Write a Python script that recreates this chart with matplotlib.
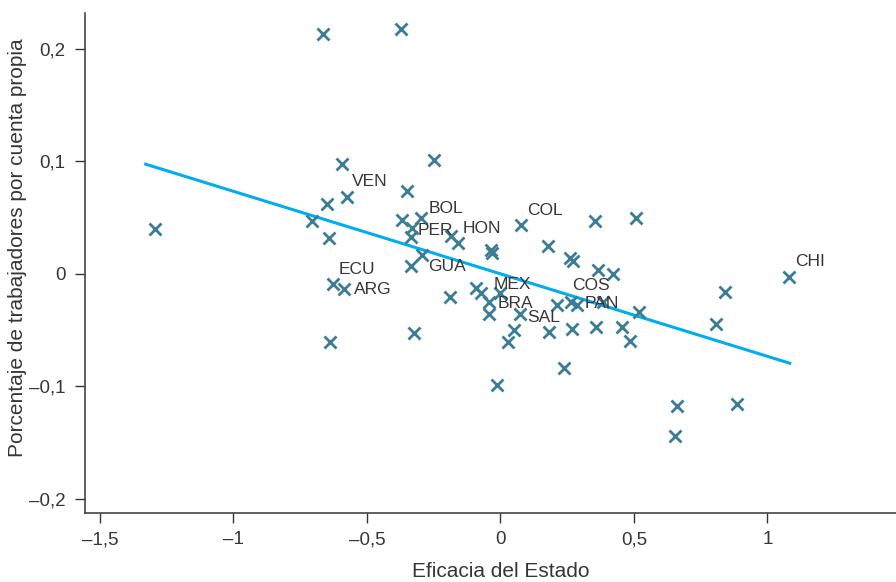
import matplotlib
matplotlib.use('Agg')
import matplotlib.pyplot as plt

# Scatter data
eficacia = [
    -0.665, -0.374, -1.293, -0.594, -0.250, -0.348, -0.576, -0.651, -0.705, -0.641,
    -0.369, -0.298, -0.333, -0.335, -0.186, -0.159, -0.295, -0.334, 0.078, 0.354,
    0.507, 0.178, -0.036, -0.030, 0.260, 0.273, 0.365, 0.423, -0.190, -0.092,
    -0.074, -0.044, -0.003, -0.043, 0.075, 0.211, 0.266, 0.288, 0.386, 0.521,
    -0.322, 0.050, 0.030, 0.181, 0.268, 0.359, 0.455, 0.485, 0.240, -0.013,
    -0.626, -0.585, -0.639, 1.082, 0.842, 0.806, 0.660, 0.888, 0.655,
]
cuenta_propia = [
    0.2125, 0.2175, 0.0396, 0.0975, 0.1008, 0.0733, 0.0685, 0.0620, 0.0470, 0.0319,
    0.0476, 0.0493, 0.0405, 0.0322, 0.0337, 0.0269, 0.0167, 0.0072, 0.0434, 0.0470,
    0.0499, 0.0242, 0.0210, 0.0180, 0.0139, 0.0115, 0.0037, -0.0004, -0.0207, -0.0127,
    -0.0171, -0.0250, -0.0168, -0.0362, -0.0362, -0.0276, -0.0250, -0.0275, -0.0250, -0.0343,
    -0.0527, -0.0500, -0.0608, -0.0514, -0.0493, -0.0470, -0.0475, -0.0594, -0.0836, -0.0984,
    -0.0089, -0.0136, -0.0609, -0.0027, -0.0162, -0.0449, -0.1176, -0.1161, -0.1445,
]

# Fitted line end points
fit_x = [-1.329, 1.084]
fit_y = [0.0973, -0.0795]

# Country labels and where their text sits (left edge, vertical centre)
paises = ["VEN", "BOL", "PER", "HON", "COL", "GUA", "ECU", "ARG",
          "MEX", "BRA", "SAL", "COS", "PAN", "CHI"]
pais_x = [-0.557, -0.270, -0.311, -0.141, 0.099, -0.270, -0.607, -0.548,
          -0.024, -0.011, 0.101, 0.268, 0.315, 1.105]
pais_y = [0.0819, 0.0577, 0.0382, 0.0399, 0.0562, 0.0065, 0.0042, -0.0142,
          -0.0098, -0.0260, -0.0393, -0.0106, -0.0260, 0.0109]

x_ticks = [-1.5, -1, -0.5, 0, 0.5, 1]
x_tick_labels = ["\u20131,5", "\u20131", "\u20130,5", "0", "0,5", "1"]
y_ticks = [0.2, 0.1, 0, -0.1, -0.2]
y_tick_labels = ["0,2", "0,1", "0", "\u20130,1", "\u20130,2"]

plt.rcParams['font.family'] = ['Liberation Sans', 'DejaVu Sans']
text_color = "#363636"

fig = plt.figure(figsize=(8.96, 5.82), dpi=100)
ax = fig.add_axes([0.0949, 0.1186, 0.9051, 0.8591])

ax.plot(fit_x, fit_y, color="#00aeef", linewidth=2.2, zorder=2)
ax.plot(eficacia, cuenta_propia, linestyle="none", marker="x", markersize=8,
        markeredgewidth=2.0, color="#3b7c96", zorder=3)

for nombre, tx, ty in zip(paises, pais_x, pais_y):
    ax.text(tx, ty, nombre, fontsize=12.5, color=text_color,
            ha="left", va="center", zorder=4)

ax.set_xlim(-1.556, 1.482)
ax.set_ylim(-0.2125, 0.2316)
ax.set_xticks(x_ticks)
ax.set_xticklabels(x_tick_labels)
ax.set_yticks(y_ticks)
ax.set_yticklabels(y_tick_labels)

for side in ["top", "right"]:
    ax.spines[side].set_visible(False)
for side in ["left", "bottom"]:
    ax.spines[side].set_color(text_color)
    ax.spines[side].set_linewidth(1.1)

ax.tick_params(axis="both", direction="out", length=7, width=1,
               color=text_color, labelcolor=text_color, labelsize=13.5)
ax.tick_params(axis="x", pad=6)
ax.tick_params(axis="y", pad=7)

ax.set_xlabel("Eficacia del Estado", fontsize=15, color=text_color, va="center")
ax.set_ylabel("Porcentaje de trabajadores por cuenta propia", fontsize=15,
              color=text_color, va="center")
ax.xaxis.set_label_coords(0.513, -0.118)
ax.yaxis.set_label_coords(-0.083, 0.53)

fig.savefig("out.png", dpi=100)
